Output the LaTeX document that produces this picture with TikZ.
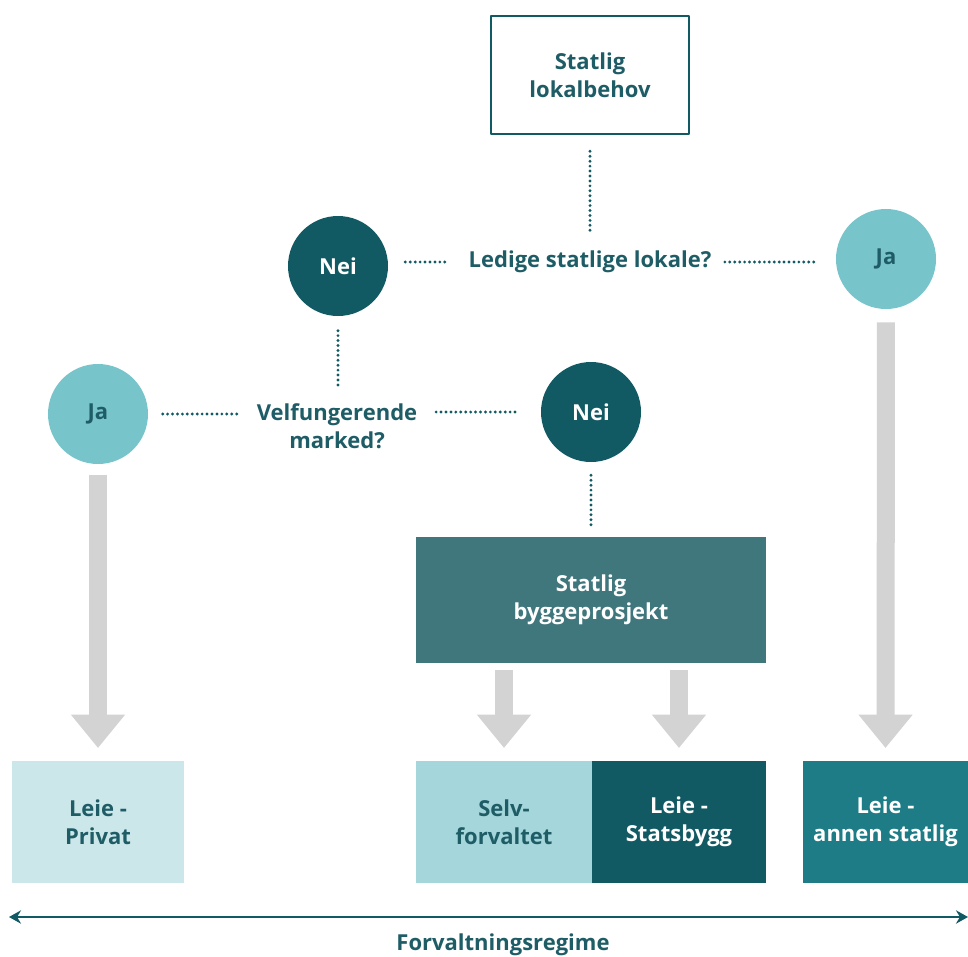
\documentclass[tikz,border=0pt]{standalone}
\usepackage{fontspec}
\setmainfont{Open Sans}
\usetikzlibrary{arrows.meta,positioning}
\definecolor{tealdark}{HTML}{125A63}
\definecolor{tealmid}{HTML}{1D7C85}
\definecolor{tealgrey}{HTML}{3F777D}
\definecolor{teallight}{HTML}{77C4CB}
\definecolor{tealpale}{HTML}{A4D6DB}
\definecolor{tealfaint}{HTML}{CBE7EA}
\definecolor{textteal}{HTML}{1E5C66}
\definecolor{arrowgrey}{HTML}{D3D3D3}

\begin{document}
\begin{tikzpicture}[x=0.75pt,y=-0.75pt,line cap=round,line join=round,
    font=\bfseries\fontsize{16.5}{21}\selectfont,text=textteal,
    answer/.style={circle,minimum size=75pt,inner sep=0pt,outer sep=0pt},
    nei/.style={answer,fill=tealdark,text=white},
    ja/.style={answer,fill=teallight},
    question/.style={align=center,inner sep=0pt},
    regime/.style={minimum height=91pt,inner sep=0pt,outer sep=0pt,align=center},
    dots/.style={draw=tealdark,line width=2.4pt,dash pattern=on 0pt off 3.7pt},
    flow/.style={draw=arrowgrey,line width=13.5pt,line cap=butt,
        -{Triangle[width=39pt,length=25pt]}}]
    \useasboundingbox (0,0) rectangle (968,957);

    % decision nodes
    \node[draw=tealdark,line width=1.5pt,fill=white,minimum width=149pt,
        minimum height=89pt,align=center] (lokal) at (590,75) {Statlig\\lokalbehov};
    \node[question] (ledig) at (590,262) {Ledige statlige lokale?};
    \node[nei] (nei1) at (338,266) {Nei};
    \node[ja] (ja1) at (886,259) {Ja};
    \node[question] (marked) at (337,426) {Velfungerende\\marked?};
    \node[ja] (ja2) at (98,414) {Ja};
    \node[nei] (nei2) at (591,412) {Nei};
    \node[fill=tealgrey,text=white,minimum width=262.5pt,minimum height=95pt,
        inner sep=0pt,outer sep=0pt,align=center] (bygg) at (591,600) {Statlig\\byggeprosjekt};

    % forvaltningsregime
    \node[regime,fill=tealfaint,minimum width=129pt] (privat) at (98,822) {Leie -\\Privat};
    \node[regime,fill=tealpale,minimum width=132pt] (selv) at (504,822) {Selv-\\forvaltet};
    \node[regime,fill=tealdark,text=white,minimum width=130.5pt] (statsbygg) at (679,822) {Leie -\\Statsbygg};
    \node[regime,fill=tealmid,text=white,minimum width=124pt] (annen) at (885.5,822) {Leie -\\annen statlig};

    % dotted connectors
    \draw[dots,shorten <=12pt,shorten >=12pt] (lokal.south) -- (lokal.south |- ledig.north);
    \draw[dots,shorten <=13pt,shorten >=16pt] (nei1.east |- ledig) -- (ledig.west);
    \draw[dots,shorten <=10pt,shorten >=16pt] (ledig.east) -- (ja1.west |- ledig);
    \draw[dots,shorten <=11pt,shorten >=10pt] (nei1.south) -- (nei1.south |- marked.north);
    \draw[dots,shorten <=11pt,shorten >=12pt] (ja2.east) -- (ja2 -| marked.west);
    \draw[dots,shorten <=14pt,shorten >=18pt] (nei2 -| marked.east) -- (nei2.west);
    \draw[dots,shorten <=10pt,shorten >=8pt] (nei2.south) -- (bygg.north);

    % grey arrows
    \draw[flow,shorten <=8pt,shorten >=10pt] (ja2.south) -- (privat.north);
    \draw[flow,shorten <=10pt,shorten >=10pt] (ja1.south) -- (annen.north);
    \draw[flow,shorten <=5pt,shorten >=10pt] (bygg.south -| selv.north) -- (selv.north);
    \draw[flow,shorten <=5pt,shorten >=10pt] (bygg.south -| statsbygg.north) -- (statsbygg.north);

    % axis
    \coordinate (axl) at (9,917);
    \coordinate (axr) at (968,917);
    \draw[tealdark,line width=2.2pt,{Stealth[length=9pt,width=10pt]}-{Stealth[length=9pt,width=10pt]}] (axl) -- (axr);
    \node (regimetxt) at (503,945) {Forvaltningsregime};
\end{tikzpicture}
\end{document}
